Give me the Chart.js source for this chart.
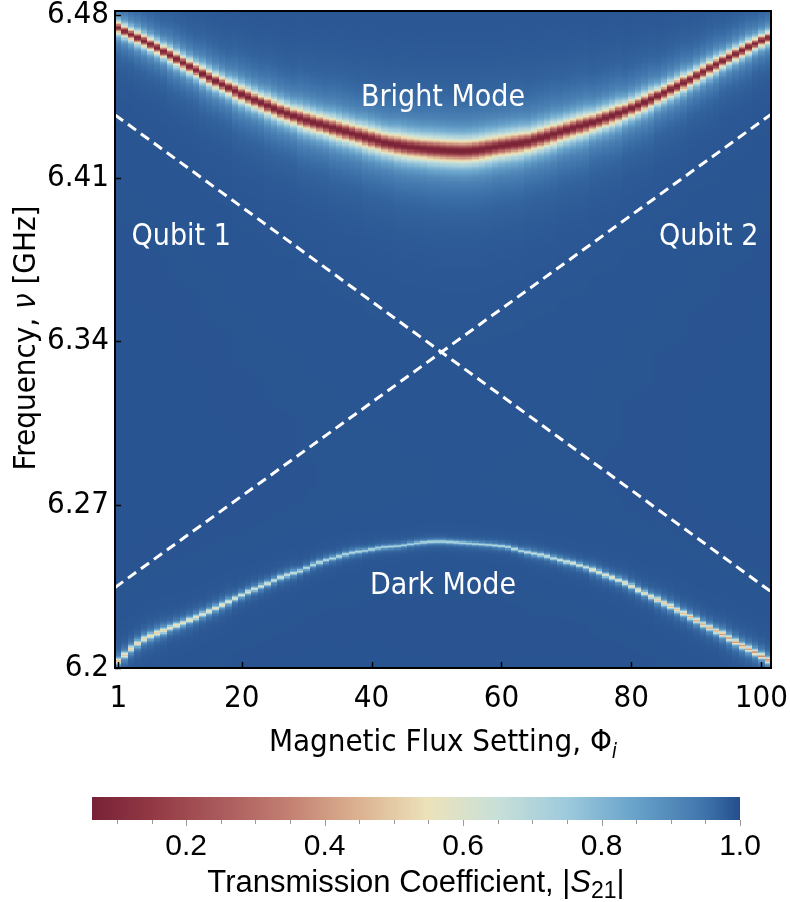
<!DOCTYPE html>
<html>
<head>
<meta charset="utf-8">
<title>Flux map</title>
<script src="https://cdn.jsdelivr.net/npm/chart.js@4.4.1/dist/chart.umd.min.js"></script>
<style>
  html, body { margin: 0; padding: 0; background: #fff; }
  #main { position: absolute; left: 0; top: 0; width: 790px; height: 770px; }
  #cbar { position: absolute; left: 0; top: 770px; width: 790px; height: 132px; }
</style>
</head>
<body>
<div id="main"><canvas id="mapChart"></canvas></div>
<div id="cbar"><canvas id="cbarChart"></canvas></div>
<script>
// --- Resonance data, one entry per flux setting 1..101 (GHz) ---
const brightFreq = [
  6.4743, 6.4728, 6.4714, 6.4700, 6.4686, 6.4672, 6.4657, 6.4641, 6.4625, 6.4609,
  6.4593, 6.4577, 6.4561, 6.4545, 6.4529, 6.4514, 6.4500, 6.4486, 6.4472, 6.4458,
  6.4445, 6.4433, 6.4421, 6.4409, 6.4397, 6.4385, 6.4375, 6.4365, 6.4355, 6.4346,
  6.4338, 6.4330, 6.4322, 6.4314, 6.4306, 6.4298, 6.4290, 6.4282, 6.4274, 6.4266,
  6.4258, 6.4250, 6.4245, 6.4240, 6.4235, 6.4231, 6.4228, 6.4225, 6.4222, 6.4220,
  6.4218, 6.4216, 6.4215, 6.4214, 6.4215, 6.4218, 6.4222, 6.4227, 6.4232, 6.4237,
  6.4241, 6.4245, 6.4249, 6.4254, 6.4262, 6.4270, 6.4278, 6.4287, 6.4296, 6.4305,
  6.4313, 6.4321, 6.4329, 6.4337, 6.4346, 6.4356, 6.4366, 6.4376, 6.4386, 6.4398,
  6.4410, 6.4423, 6.4436, 6.4450, 6.4464, 6.4478, 6.4492, 6.4507, 6.4521, 6.4537,
  6.4553, 6.4569, 6.4585, 6.4600, 6.4615, 6.4630, 6.4645, 6.4660, 6.4674, 6.4688,
  6.4700
];
const darkFreq = [
  6.2030, 6.2055, 6.2082, 6.2105, 6.2125, 6.2137, 6.2150, 6.2160, 6.2172, 6.2183,
  6.2193, 6.2205, 6.2217, 6.2230, 6.2243, 6.2256, 6.2270, 6.2284, 6.2298, 6.2312,
  6.2326, 6.2338, 6.2350, 6.2362, 6.2375, 6.2388, 6.2398, 6.2407, 6.2415, 6.2428,
  6.2442, 6.2453, 6.2462, 6.2470, 6.2478, 6.2487, 6.2494, 6.2499, 6.2503, 6.2508,
  6.2514, 6.2518, 6.2520, 6.2522, 6.2526, 6.2531, 6.2535, 6.2538, 6.2541, 6.2542,
  6.2542, 6.2540, 6.2538, 6.2536, 6.2534, 6.2532, 6.2530, 6.2528, 6.2525, 6.2522,
  6.2518, 6.2510, 6.2502, 6.2496, 6.2490, 6.2485, 6.2478, 6.2470, 6.2462, 6.2455,
  6.2449, 6.2440, 6.2431, 6.2421, 6.2410, 6.2398, 6.2387, 6.2376, 6.2365, 6.2350,
  6.2334, 6.2320, 6.2306, 6.2292, 6.2278, 6.2264, 6.2249, 6.2234, 6.2219, 6.2203,
  6.2187, 6.2172, 6.2158, 6.2145, 6.2128, 6.2111, 6.2095, 6.2081, 6.2067, 6.2051,
  6.2034
];

// Line shape (dip depth, half width in GHz), one entry per 5 settings: 1, 6, 11 ... 101
const brightDepth = [0.91, 0.92, 0.92, 0.93, 0.93, 0.93, 0.93, 0.93, 0.93, 0.93, 0.93,
                     0.93, 0.93, 0.93, 0.93, 0.93, 0.93, 0.93, 0.92, 0.92, 0.91];
const brightWidth = [0.0020, 0.0021, 0.0023, 0.0025, 0.0028, 0.0030, 0.0033, 0.0035, 0.0037, 0.0039, 0.0040,
                     0.0040, 0.0039, 0.0037, 0.0035, 0.0032, 0.0029, 0.0026, 0.0024, 0.0022, 0.0020];
const darkDepth = [0.50, 0.48, 0.45, 0.42, 0.38, 0.35, 0.32, 0.30, 0.28, 0.27, 0.27,
                   0.28, 0.30, 0.33, 0.37, 0.42, 0.47, 0.52, 0.56, 0.59, 0.62];
const darkWidth = [0.0010, 0.0010, 0.0009, 0.0009, 0.0008, 0.0008, 0.0007, 0.0007, 0.0006, 0.0006, 0.0006,
                   0.0006, 0.0006, 0.0007, 0.0007, 0.0008, 0.0008, 0.0009, 0.0009, 0.0010, 0.0010];
const baseLevel = 0.992;

// Bare qubit lines (endpoints at the edges of the flux range)
const qubitFlux = [0.5, 101.5];
const qubit1Freq = [6.4370, 6.2327];
const qubit2Freq = [6.2345, 6.4372];

// Axes
const fluxTicks = [1, 20, 40, 60, 80, 100];
const freqTicks = [6.2, 6.27, 6.34, 6.41, 6.48];
const freqMin = 6.2, freqMax = 6.4815, freqStep = 0.0005;
const cbarMin = 0.064, cbarMax = 1.0;
const cbarTicks = [0.2, 0.4, 0.6, 0.8, 1.0];
const cbarMinorTicks = [0.1, 0.15, 0.25, 0.3, 0.35, 0.45, 0.5, 0.55, 0.65, 0.7, 0.75, 0.85, 0.9, 0.95];

// Annotations in data coordinates
const annotations = [
  { text: 'Bright Mode', flux: 51, freq: 6.4440 },
  { text: 'Dark Mode', flux: 51, freq: 6.2352 },
  { text: 'Qubit 1', flux: 10.7, freq: 6.3847 },
  { text: 'Qubit 2', flux: 91.9, freq: 6.3847 }
];

// --- Colour map (red -> cream -> blue) ---
const cmapStops = [0.064, 0.15, 0.25, 0.35, 0.45, 0.55, 0.65, 0.75, 0.85, 0.95, 1.0];
const cmapColors = [
  [120, 34, 55], [146, 56, 68], [170, 90, 92], [195, 128, 114], [220, 178, 145],
  [236, 226, 186], [200, 224, 216], [158, 202, 220], [104, 162, 202], [63, 116, 171], [36, 78, 140]
];
function colorFor(v) {
  if (v <= cmapStops[0]) return `rgb(${cmapColors[0].join(',')})`;
  for (let i = 1; i < cmapStops.length; i++) {
    if (v <= cmapStops[i]) {
      const t = (v - cmapStops[i - 1]) / (cmapStops[i] - cmapStops[i - 1]);
      const a = cmapColors[i - 1], b = cmapColors[i];
      return `rgb(${Math.round(a[0] + (b[0] - a[0]) * t)},${Math.round(a[1] + (b[1] - a[1]) * t)},${Math.round(a[2] + (b[2] - a[2]) * t)})`;
    }
  }
  return `rgb(${cmapColors[cmapColors.length - 1].join(',')})`;
}

function lorentz(f, f0, hw) {
  const d = (f - f0) / hw;
  return 1 / (1 + d * d);
}

// |S21| of one cell: product of the two mode dips
function transmission(f, i) {
  const k = Math.round(i / 5);
  const b = 1 - brightDepth[k] * lorentz(f, brightFreq[i], brightWidth[k]);
  const d = 1 - darkDepth[k] * lorentz(f, darkFreq[i], darkWidth[k]);
  return baseLevel * b * d;
}

const MAIN_FONT = '"DejaVu Sans Condensed", "DejaVu Sans", sans-serif';
const CBAR_FONT = '"Liberation Sans", Arial, sans-serif';

// Text with mixed font pieces, centred on cx
function drawParts(ctx, parts, cx, cy) {
  let total = 0;
  parts.forEach(p => { ctx.font = p.font; p.w = ctx.measureText(p.text).width; total += p.w; });
  let px = cx - total / 2;
  ctx.textAlign = 'left';
  ctx.textBaseline = 'alphabetic';
  parts.forEach(p => {
    ctx.font = p.font;
    ctx.fillText(p.text, px, cy + (p.dy || 0));
    px += p.w;
  });
}

// --- Heatmap cells ---
const heatmapPlugin = {
  id: 'heatmap',
  beforeDatasetsDraw(chart) {
    const { ctx, chartArea: a, scales: { x, y } } = chart;
    ctx.save();
    ctx.beginPath();
    ctx.rect(a.left, a.top, a.right - a.left, a.bottom - a.top);
    ctx.clip();
    const nRows = Math.round((freqMax - freqMin) / freqStep) + 1;
    for (let i = 0; i < brightFreq.length; i++) {
      const flux = i + 1;
      const x0 = Math.round(x.getPixelForValue(flux - 0.5));
      const x1 = Math.round(x.getPixelForValue(flux + 0.5));
      for (let r = 0; r < nRows; r++) {
        const f = freqMin + r * freqStep;
        const y0 = Math.round(y.getPixelForValue(f + freqStep / 2));
        const y1 = Math.round(y.getPixelForValue(f - freqStep / 2));
        if (y1 <= y0) continue;
        ctx.fillStyle = colorFor(transmission(f, i));
        ctx.fillRect(x0, y0, x1 - x0, y1 - y0);
      }
    }
    ctx.restore();
  },
  afterDatasetsDraw(chart) {
    const { ctx, scales: { x, y } } = chart;
    ctx.save();
    ctx.fillStyle = '#ffffff';
    ctx.font = `30px ${MAIN_FONT}`;
    ctx.textAlign = 'center';
    ctx.textBaseline = 'middle';
    annotations.forEach(t => ctx.fillText(t.text, x.getPixelForValue(t.flux), y.getPixelForValue(t.freq)));
    ctx.restore();
  },
  afterDraw(chart) {
    const { ctx, chartArea: a, scales: { x, y } } = chart;
    ctx.save();
    // frame and inward ticks
    ctx.strokeStyle = '#000';
    ctx.lineWidth = 1.5;
    fluxTicks.forEach(v => {
      const px = Math.round(x.getPixelForValue(v)) + 0.5;
      ctx.beginPath(); ctx.moveTo(px, a.bottom); ctx.lineTo(px, a.bottom - 6); ctx.stroke();
    });
    freqTicks.forEach(v => {
      const py = Math.round(y.getPixelForValue(v)) + 0.5;
      ctx.beginPath(); ctx.moveTo(a.left, py); ctx.lineTo(a.left + 6, py); ctx.stroke();
    });
    ctx.lineWidth = 2;
    ctx.strokeRect(a.left, a.top, a.right - a.left, a.bottom - a.top);

    // axis titles
    ctx.fillStyle = '#000';
    const f = `31px ${MAIN_FONT}`;
    const fi = `italic 31px ${MAIN_FONT}`;
    drawParts(ctx, [
      { text: 'Magnetic Flux Setting, Φ', font: f },
      { text: 'i', font: `italic 21px ${MAIN_FONT}`, dy: 7 }
    ], (a.left + a.right) / 2, 751);
    ctx.translate(35, 338);
    ctx.rotate(-Math.PI / 2);
    drawParts(ctx, [
      { text: 'Frequency, ', font: f },
      { text: 'ν', font: fi },
      { text: ' [GHz]', font: f }
    ], 0, 0);
    ctx.restore();
  }
};

new Chart(document.getElementById('mapChart'), {
  type: 'scatter',
  data: {
    datasets: [
      {
        label: 'Qubit 1',
        data: qubitFlux.map((v, i) => ({ x: v, y: qubit1Freq[i] })),
        showLine: true, borderColor: '#ffffff', borderWidth: 3, borderDash: [10, 6],
        pointRadius: 0, fill: false
      },
      {
        label: 'Qubit 2',
        data: qubitFlux.map((v, i) => ({ x: v, y: qubit2Freq[i] })),
        showLine: true, borderColor: '#ffffff', borderWidth: 3, borderDash: [10, 6],
        pointRadius: 0, fill: false
      }
    ]
  },
  options: {
    responsive: true,
    maintainAspectRatio: false,
    animation: false,
    devicePixelRatio: 1,
    layout: { padding: { top: 11, right: 19, left: 0, bottom: 0 } },
    plugins: { legend: { display: false }, tooltip: { enabled: false } },
    scales: {
      x: {
        type: 'linear', min: 0.5, max: 101.5,
        grid: { display: false, drawTicks: false }, border: { display: false },
        afterBuildTicks: s => { s.ticks = fluxTicks.map(v => ({ value: v })); },
        afterFit: s => { s.height = 102; s.paddingLeft = 0; s.paddingRight = 0; },
        ticks: { color: '#000', font: { family: MAIN_FONT, size: 31 }, padding: 12, maxRotation: 0,
                 callback: v => String(v) }
      },
      y: {
        type: 'linear', min: freqMin, max: freqMax,
        grid: { display: false, drawTicks: false }, border: { display: false },
        afterBuildTicks: s => { s.ticks = freqTicks.map(v => ({ value: v })); },
        afterFit: s => { s.width = 115; s.paddingTop = 0; s.paddingBottom = 0; },
        ticks: { color: '#000', font: { family: MAIN_FONT, size: 31 }, padding: 6,
                 callback: v => String(v) }
      }
    }
  },
  plugins: [heatmapPlugin]
});

// --- Colour bar ---
const cbarPlugin = {
  id: 'cbar',
  beforeDatasetsDraw(chart) {
    const { ctx, chartArea: a, scales: { x } } = chart;
    ctx.save();
    const step = 0.002;
    for (let v = cbarMin; v < cbarMax; v += step) {
      const x0 = Math.floor(x.getPixelForValue(v));
      const x1 = Math.ceil(x.getPixelForValue(Math.min(v + step, cbarMax)));
      ctx.fillStyle = colorFor(v + step / 2);
      ctx.fillRect(x0, a.top, x1 - x0, a.bottom - a.top);
    }
    // ticks below the bar
    ctx.strokeStyle = '#9a9a9a';
    ctx.lineWidth = 1;
    cbarMinorTicks.forEach(v => {
      const px = Math.round(x.getPixelForValue(v)) + 0.5;
      ctx.beginPath(); ctx.moveTo(px, a.bottom); ctx.lineTo(px, a.bottom + 4); ctx.stroke();
    });
    cbarTicks.forEach(v => {
      const px = Math.round(x.getPixelForValue(v)) + 0.5;
      ctx.beginPath(); ctx.moveTo(px, a.bottom); ctx.lineTo(px, a.bottom + 6); ctx.stroke();
    });
    // title
    ctx.fillStyle = '#000';
    drawParts(ctx, [
      { text: 'Transmission Coefficient, |', font: `31px ${CBAR_FONT}` },
      { text: 'S', font: `italic 31px ${CBAR_FONT}` },
      { text: '21', font: `23px ${CBAR_FONT}`, dy: 6 },
      { text: '|', font: `31px ${CBAR_FONT}` }
    ], (a.left + a.right) / 2, 122);
    ctx.restore();
  }
};

new Chart(document.getElementById('cbarChart'), {
  type: 'scatter',
  data: { datasets: [] },
  options: {
    responsive: true,
    maintainAspectRatio: false,
    animation: false,
    devicePixelRatio: 1,
    layout: { padding: { top: 27, right: 50, left: 92, bottom: 0 } },
    plugins: { legend: { display: false }, tooltip: { enabled: false } },
    scales: {
      x: {
        type: 'linear', min: cbarMin, max: cbarMax,
        grid: { display: false, drawTicks: false }, border: { display: false },
        afterBuildTicks: s => { s.ticks = cbarTicks.map(v => ({ value: v })); },
        afterFit: s => { s.height = 82; s.paddingLeft = 0; s.paddingRight = 0; },
        ticks: { color: '#000', font: { family: CBAR_FONT, size: 30 }, padding: 9, maxRotation: 0,
                 callback: v => v.toFixed(1) }
      },
      y: { display: false, min: 0, max: 1 }
    }
  },
  plugins: [cbarPlugin]
});
</script>
</body>
</html>
